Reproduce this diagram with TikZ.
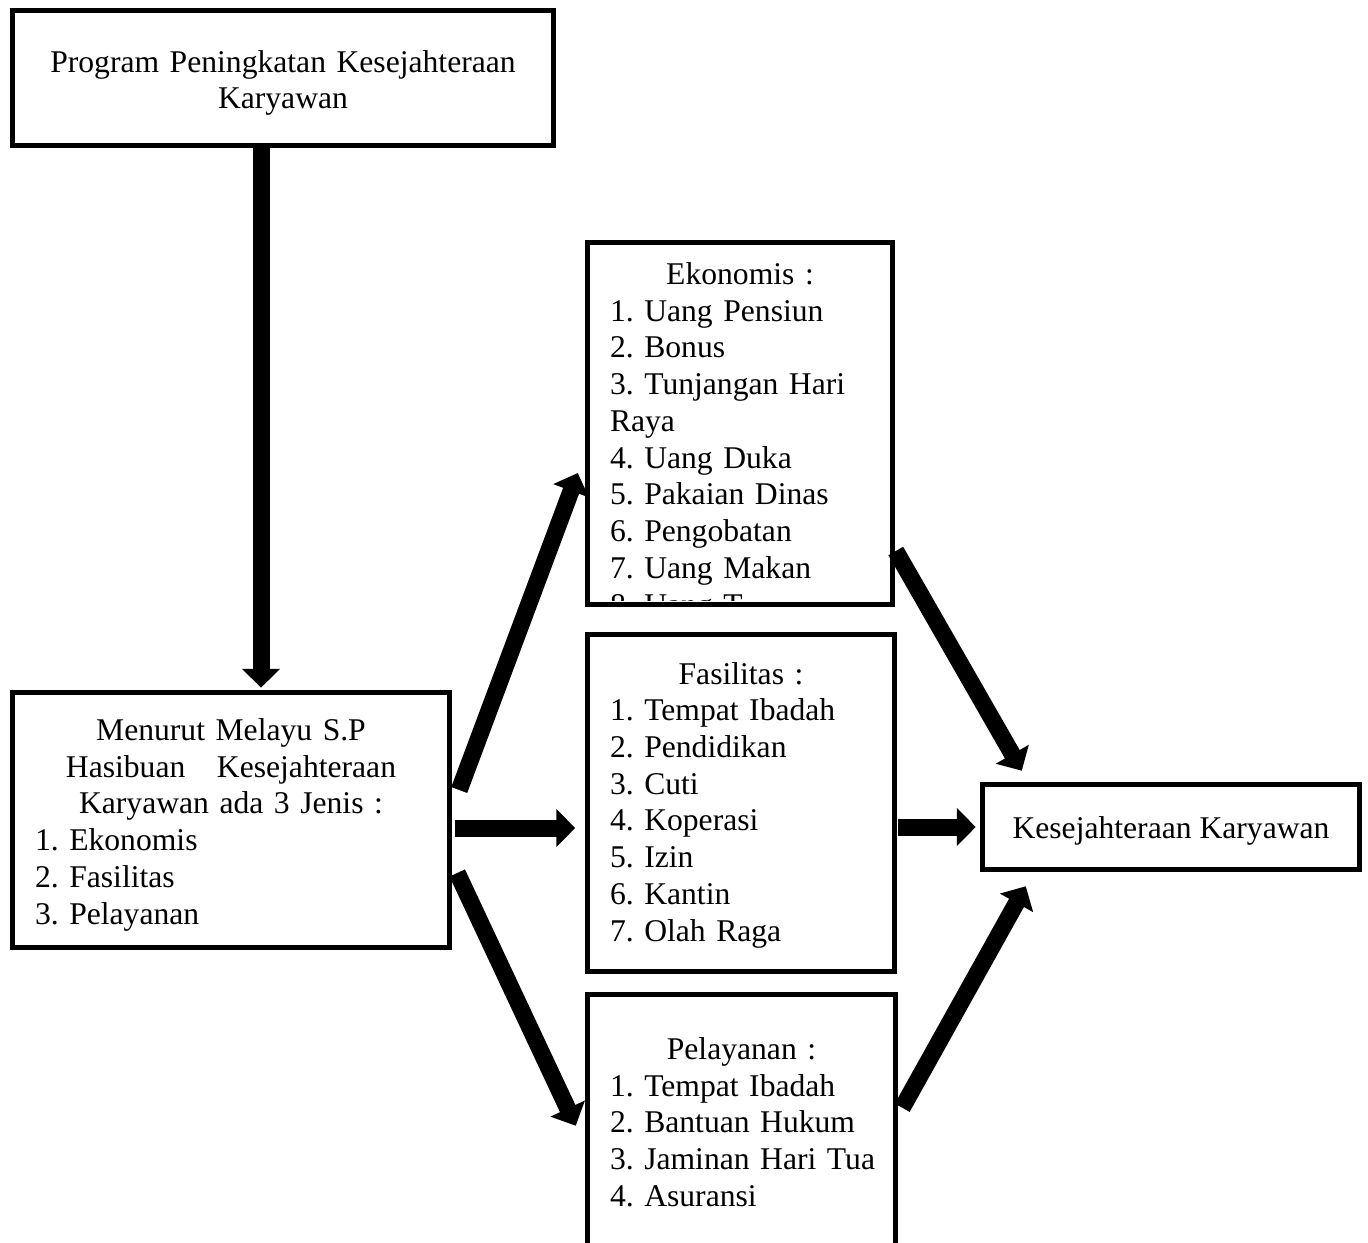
\documentclass[tikz,border=0pt]{standalone}
\usepackage{fontspec}
\setmainfont{Liberation Serif}
\frenchspacing
\usepackage{tikz}
\usetikzlibrary{positioning,arrows.meta,calc}
\newcommand{\itemln}[1]{\makebox[\hsize][l]{#1}}
\tikzset{
  node-box/.style={draw=black,line width=2.6pt,inner sep=0pt,align=center,
    font=\fontsize{18}{20.9}\selectfont},
  node-text/.style={inner sep=0pt,align=center,font=\fontsize{18}{20.9}\selectfont},
  % panah tebal hitam seperti pada bagan asli
  arrow-fat/.style={-{Triangle[length=3.8mm,width=7.4mm]},line width=3.4mm,draw=black},
}
\begin{document}
\begin{tikzpicture}[x=0.02cm,y=-0.02cm]
  \useasboundingbox (0,0) rectangle (1368,1243);
  \clip (0,0) rectangle (1368,1243);
  \node[node-box,minimum width=10.82cm,minimum height=2.7cm] (prog) at (283,78) {};
  \node[node-text,text width=10cm,below=0.83cm of prog.north] (progText)
    {Program Peningkatan Kesejahteraan\\Karyawan};
  \node[node-box,minimum width=8.74cm,minimum height=5.1cm] (menurut) at (231,820) {};
  \node[node-text,text width=7.84cm,below=0.56cm of menurut.north] (menurutText)
    {Menurut Melayu S.P\\Hasibuan\ \ \ Kesejahteraan\\Karyawan ada 3 Jenis :\\
     \itemln{1. Ekonomis}\\\itemln{2. Fasilitas}\\\itemln{3. Pelayanan}};
  \node[node-box,minimum width=6.1cm,minimum height=7.24cm] (eko) at (740,423.5) {};
  \begin{scope}
    \clip ($(eko.north west)+(0,-0.1cm)$) rectangle ($(eko.south east)+(0,0.13cm)$);
    \node[node-text,text width=5.2cm,below=0.44cm of eko.north] (ekoText)
      {Ekonomis :\\
       \itemln{1. Uang Pensiun}\\\itemln{2. Bonus}\\\itemln{3. Tunjangan Hari}\\\itemln{Raya}\\
       \itemln{4. Uang Duka}\\\itemln{5. Pakaian Dinas}\\\itemln{6. Pengobatan}\\
       \itemln{7. Uang Makan}\\\itemln{8. Uang T}};
  \end{scope}
  \node[node-box,minimum width=6.14cm,minimum height=6.74cm] (fas) at (741,803) {};
  \node[node-text,text width=5.24cm,below=0.59cm of fas.north] (fasText)
    {Fasilitas :\\
     \itemln{1. Tempat Ibadah}\\\itemln{2. Pendidikan}\\\itemln{3. Cuti}\\\itemln{4. Koperasi}\\
     \itemln{5. Izin}\\\itemln{6. Kantin}\\\itemln{7. Olah Raga}};
  \node[node-box,minimum width=6.16cm,minimum height=8cm] (pel) at (741.5,1194.5) {};
  \node[node-text,text width=5.26cm,below=0.9cm of pel.north] (pelText)
    {Pelayanan :\\
     \itemln{1. Tempat Ibadah}\\\itemln{2. Bantuan Hukum}\\\itemln{3. Jaminan Hari Tua}\\
     \itemln{4. Asuransi}};
  \node[node-box,minimum width=7.54cm,minimum height=1.7cm,text height=12.9pt,text depth=0pt] (kes) at (1171,827)
    {Kesejahteraan Karyawan};

  \coordinate (downTop) at ($(prog.south)+(-0.44cm,0)$);
  \draw[arrow-fat] (downTop) -- ($(downTop |- menurut.north)+(0,0.05cm)$);
  \draw[arrow-fat] ($(menurut.east)+(0.15cm,0.6cm)$) -- ($(eko.west)+(-0.15cm,-0.99cm)$);
  \draw[arrow-fat] ($(menurut.east)+(0.06cm,-0.16cm)$) -- ($(menurut.east -| fas.west)+(-0.2cm,-0.16cm)$);
  \draw[arrow-fat] ($(menurut.east)+(0.11cm,-1.06cm)$) -- ($(pel.north west)+(-0.19cm,-2.67cm)$);
  \draw[arrow-fat] ($(eko.east)+(0.02cm,-2.55cm)$) -- ($(kes.north west)+(0.83cm,0.23cm)$);
  \draw[arrow-fat] ($(fas.east |- kes.west)+(0.02cm,0)$) -- ($(kes.west)+(-0.09cm,0)$);
  \draw[arrow-fat] ($(pel.north east)+(0.09cm,-2.31cm)$) -- ($(kes.south west)+(0.91cm,-0.29cm)$);
\end{tikzpicture}
\end{document}
